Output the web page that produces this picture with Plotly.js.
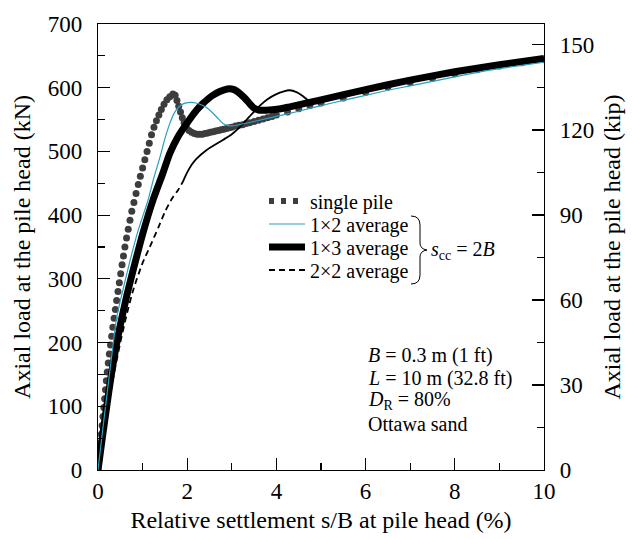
<!DOCTYPE html>
<html>
<head>
<meta charset="utf-8">
<script src="https://cdn.plot.ly/plotly-3.0.1.min.js"></script>
<style>html,body{margin:0;padding:0;background:#fff;}#chart{width:632px;height:539px;}</style>
</head>
<body>
<div id="chart"></div>
<script>
// Single pile (dots)
var singleX = [0.000,0.018,0.036,0.055,0.073,0.092,0.111,0.130,0.149,0.168,0.187,0.207,0.230,0.254,0.280,0.306,0.333,0.361,0.390,0.418,0.448,0.478,0.509,0.540,0.571,0.603,0.640,0.678,0.717,0.758,0.805,0.853,0.903,0.950,1.000,1.050,1.100,1.150,1.200,1.255,1.310,1.365,1.420,1.480,1.545,1.610,1.680,1.730,1.770,1.810,1.850,1.890,1.930,1.980,2.040,2.100,2.160,2.220,2.280,2.340,2.400,2.460,2.520,2.580,2.640,2.700,2.760,2.820,2.880,2.940,3.000,3.080,3.160,3.240,3.320,3.400,3.500,3.600,3.700,3.800,3.900,4.000,4.250,4.500,4.750,5.000,5.500,6.000,6.500,7.000,7.500,8.000,8.500,9.000,9.500,10.000];
var singleY = [0,14,28,42,56,70,84,98,112,126,140,154,168,182,196,210,224,238,252,266,280,294,308,322,336,350,364,378,392,406,420,434,448,461,474,487,500,513,526,538,548,557,566,574,581,586,590,588,580,571,562,553,545,538,533,530,528,527,527,527,528,529,530,531,532,533,534,535,536,537,538,540,541,542,544,545,547,549,551,553,555,557,562,567,572,576,584,593,601,608,615,622,628,634,639,644];

// 1x2 average (thin cyan)
var avg12X = [0,0.1,0.2,0.3,0.42,0.55,0.72,0.9,1.12,1.25,1.39,1.5,1.61,1.7,1.8,1.92,2.06,2.2,2.35,2.47,2.58,2.7,2.8,2.9,3.0,3.5,4.0,4.5,5.0,5.5,6.0,6.5,7.0,7.5,8.0,8.5,9.0,9.5,10.0];
var avg12Y = [0,60,118,175,240,280,329,376,423,458,491,520,544,559,569,575,577,576,572,567,560,551,544,541,540,547,555,563,572,580,588,596,603,610,617,624,630,635,640];

// 1x3 average (thick black)
var avg13X = [0,0.1,0.2,0.3,0.45,0.64,0.83,1.0,1.23,1.45,1.61,1.8,1.99,2.2,2.35,2.55,2.73,2.9,3.05,3.18,3.3,3.4,3.5,3.6,3.85,4.1,4.3,5.0,6.0,7.0,8.0,9.0,10.0];
var avg13Y = [0,52,102,150,210,272,325,370,423,465,497,524,544,564,575,587,594,598,597,591,583,575,568,565,565,567,570,581,597,612,625,636,646];

// 2x2 average (thin black: dashed lower part, solid upper part)
var avg22DashX = [0,0.1,0.2,0.35,0.5,0.64,0.8,1.0,1.16,1.35,1.5,1.65,1.8,1.9];
var avg22DashY = [0,45,88,148,200,243,285,325,350,380,405,425,440,452];
var avg22SolidX = [1.9,2.0,2.1,2.2,2.43,2.8,3.0,3.18,3.4,3.63,3.8,4.0,4.15,4.3,4.45,4.59,4.7,4.85,5.0,6.0,7.0,8.0,9.0,10.0];
var avg22SolidY = [452,467,479,488,502,518,527,538,555,572,582,590,594,596,593,587,581,578,581,597,612,625,636,646];

var xTicks = [0,2,4,6,8,10];
var kN_per_kip = 4.448222;

var FONT = 'Liberation Serif, Times New Roman, serif';
var L = 98, R = 544, T = 24, B = 470;
function px(x){return (x-L)/(R-L);}
function py(y){return (B-y)/(B-T);}

var traces = [
  {x: singleX, y: singleY, mode: 'markers', showlegend: false,
   marker: {color: '#3d3d3d', size: 7}},
  {x: [null], y: [null], mode: 'lines', name: 'single pile', legend: 'legend',
   line: {color: '#3d3d3d', width: 6, dash: '5px,7px'}, hoverinfo: 'skip'},
  {x: avg13X, y: avg13Y, mode: 'lines', name: '1×3 average', legend: 'legend3',
   line: {color: '#000', width: 7, shape: 'spline', smoothing: 0.6}},
  {x: avg22DashX, y: avg22DashY, mode: 'lines', name: '2×2 average', legend: 'legend4',
   line: {color: '#000', width: 1.8, dash: '6px,4px', shape: 'spline', smoothing: 0.6}},
  {x: avg22SolidX, y: avg22SolidY, mode: 'lines', showlegend: false,
   line: {color: '#000', width: 1.8, shape: 'spline', smoothing: 0.6}},
  {x: avg12X, y: avg12Y, mode: 'lines', name: '1×2 average', legend: 'legend2',
   line: {color: '#2a9ec2', width: 1.2, shape: 'spline', smoothing: 0.6}},
  {x: [null], y: [null], yaxis: 'y2', mode: 'lines', showlegend: false, hoverinfo: 'skip'}
];

function leg(yc){
  return {x: px(264), y: py(yc), xanchor: 'left', yanchor: 'middle',
    bgcolor: 'rgba(0,0,0,0)', font: {family: FONT, size: 20, color: '#000'},
    itemwidth: 36, borderwidth: 0};
}

var bracePath = 'M ' + px(411) + ',' + py(216) +
  ' Q ' + px(420) + ',' + py(216) + ' ' + px(420) + ',' + py(225) +
  ' L ' + px(420) + ',' + py(243) +
  ' Q ' + px(420) + ',' + py(249) + ' ' + px(427) + ',' + py(250) +
  ' Q ' + px(420) + ',' + py(251) + ' ' + px(420) + ',' + py(257) +
  ' L ' + px(420) + ',' + py(275) +
  ' Q ' + px(420) + ',' + py(284) + ' ' + px(411) + ',' + py(284);

var TF = 23, TT = 24, AF = 20;
var layout = {
  width: 632, height: 539,
  margin: {l: L, r: 632 - R, t: T, b: 539 - B, pad: 0},
  paper_bgcolor: '#fff', plot_bgcolor: '#fff',
  font: {family: FONT, color: '#000', size: AF},
  showlegend: true,
  legend: leg(201), legend2: leg(224), legend3: leg(247), legend4: leg(270),
  xaxis: {range: [0, 10], tickvals: xTicks, ticks: 'inside', ticklen: 12, tickwidth: 1.2,
    tickcolor: '#000', showgrid: false, zeroline: false, showline: true, linecolor: '#000',
    linewidth: 1.2, mirror: true, tickfont: {family: FONT, size: TF},
    minor: {dtick: 1, ticks: 'inside', ticklen: 7, tickwidth: 1.2, tickcolor: '#000', showgrid: false},
    title: {text: 'Relative settlement s/B at pile head (%)', font: {family: FONT, size: TT}, standoff: 8}},
  yaxis: {range: [0, 700], dtick: 100, ticks: 'inside', ticklen: 12, tickwidth: 1.2,
    tickcolor: '#000', showgrid: false, zeroline: false, showline: true, linecolor: '#000',
    linewidth: 1.2, tickfont: {family: FONT, size: TF}, ticklabelstandoff: 10,
    minor: {dtick: 50, ticks: 'inside', ticklen: 7, tickwidth: 1.2, tickcolor: '#000', showgrid: false},
    title: {text: 'Axial load at the pile head (kN)', font: {family: FONT, size: TT}, standoff: 10}},
  yaxis2: {overlaying: 'y', side: 'right', range: [0, 700 / kN_per_kip], dtick: 30, ticks: 'inside',
    ticklen: 12, tickwidth: 1.2, tickcolor: '#000', showgrid: false, zeroline: false,
    showline: true, linecolor: '#000', linewidth: 1.2, tickfont: {family: FONT, size: TF},
    ticklabelstandoff: 10,
    minor: {dtick: 15, ticks: 'inside', ticklen: 7, tickwidth: 1.2, tickcolor: '#000', showgrid: false},
    title: {text: 'Axial load at the pile head (kip)', font: {family: FONT, size: TT}, standoff: 10}},
  shapes: [{type: 'path', xref: 'paper', yref: 'paper', path: bracePath,
    line: {color: '#000', width: 1}}],
  annotations: [
    {xref: 'paper', yref: 'paper', x: px(429), y: py(250), xanchor: 'left', yanchor: 'middle',
     showarrow: false, text: '<i>s</i><sub>cc</sub> = 2<i>B</i>', font: {family: FONT, size: AF}},
    {xref: 'paper', yref: 'paper', x: px(366), y: py(355), xanchor: 'left', yanchor: 'middle',
     showarrow: false, text: '<i>B</i> = 0.3 m (1 ft)', font: {family: FONT, size: AF}},
    {xref: 'paper', yref: 'paper', x: px(366), y: py(378), xanchor: 'left', yanchor: 'middle',
     showarrow: false, text: '<i>L</i> = 10 m (32.8 ft)', font: {family: FONT, size: AF}},
    {xref: 'paper', yref: 'paper', x: px(366), y: py(400), xanchor: 'left', yanchor: 'middle',
     showarrow: false, text: '<i>D</i><sub>R</sub> = 80%', font: {family: FONT, size: AF}},
    {xref: 'paper', yref: 'paper', x: px(366), y: py(424), xanchor: 'left', yanchor: 'middle',
     showarrow: false, text: 'Ottawa sand', font: {family: FONT, size: AF}}
  ]
};

Plotly.newPlot('chart', traces, layout, {displayModeBar: false, staticPlot: true});
</script>
</body>
</html>
